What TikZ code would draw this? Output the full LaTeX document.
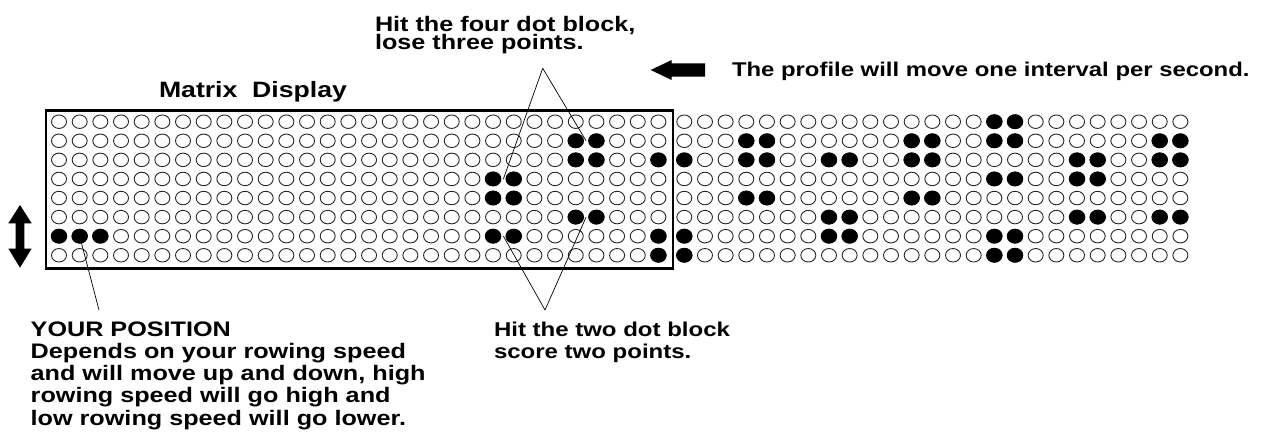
\documentclass[tikz,border=0pt]{standalone}
\usepackage{fontspec}
\setmainfont{Liberation Sans}[FakeStretch=1.2]
\usetikzlibrary{shapes.geometric,calc}
\tikzset{
  dot/.style={ellipse,draw=black!85,line width=0.9pt,minimum width=15pt,minimum height=13.5pt,inner sep=0pt},
  hit/.style={ellipse,fill=black,minimum width=16.5pt,minimum height=15pt,inner sep=0pt},
  lbl/.style={inner sep=0pt,outer sep=0pt,align=left},
  pointer/.style={line width=0.7pt},
  frame/.style={draw,line width=2.6pt,inner sep=0pt,minimum width=627pt,minimum height=157.7pt,anchor=north west},
  blockarrow/.style={fill=black},
}
\begin{document}
\lineskiplimit=-100pt
\begin{tikzpicture}[x=1pt,y=-1pt]
\useasboundingbox (0,0) rectangle (1264,437);
% dot matrix
\foreach \r in {0,...,7}{
  \foreach \k in {0,...,54}{
    \pgfmathsetmacro\xx{\k<30 ? 59+20.67*\k : 684.3+20.67*(\k-30)}
    \pgfmathsetmacro\yy{121.7+19.08*\r}
    \node[dot] (d-\r-\k) at (\xx,\yy) {};
  }
}
\foreach \r/\k in {0/45,0/46,
  1/25,1/26,1/33,1/34,1/41,1/42,1/45,1/46,1/53,1/54,
  2/25,2/26,2/29,2/30,2/33,2/34,2/37,2/38,2/41,2/42,2/49,2/50,2/53,2/54,
  3/21,3/22,3/45,3/46,3/49,3/50,
  4/21,4/22,4/33,4/34,4/41,4/42,
  5/25,5/26,5/37,5/38,5/49,5/50,5/53,5/54,
  6/0,6/1,6/2,6/21,6/22,6/29,6/30,6/37,6/38,6/45,6/46,
  7/29,7/30,7/45,7/46}{
  \node[hit] (f-\r-\k) at (d-\r-\k) {};
}
% display frame
\node[frame] (display) at (44.7,109.3) {};
% labels
\node[lbl,font=\fontsize{22.2}{25}\selectfont\bfseries,anchor=base west] (title) at (159,97) {Matrix\ \ Display};
\node[lbl,font=\fontsize{21}{18.3}\selectfont\bfseries,anchor=north west] (four) at (375,16.4) {Hit the four dot block,\\lose three points.};
\node[lbl,font=\fontsize{19.9}{22}\selectfont\bfseries,anchor=base west] (profile) at (732,76) {The profile will move one interval per second.};
\node[lbl,font=\fontsize{21}{22.3}\selectfont\bfseries,anchor=north west] (your) at (30.7,321.4) {YOUR POSITION\\Depends on your rowing speed\\and will move up and down, high\\rowing speed will go high and\\low rowing speed will go lower.};
\node[lbl,font=\fontsize{20}{22.3}\selectfont\bfseries,anchor=north west] (two) at (494,322) {Hit the two dot block\\score two points.};
% arrows
\fill[blockarrow] (650.7,70) -- (671.7,60) -- (671.7,63.3) -- (705,63.3) -- (705,76.7) -- (671.7,76.7) -- (671.7,80) -- cycle;
\fill[blockarrow] (20,205) -- (31.7,223.3) -- (24.3,223.3) -- (24.3,248.5) -- (31.7,248.5) -- (20,267.7) -- (8.3,248.5) -- (15.7,248.5) -- (15.7,223.3) -- (8.3,223.3) -- cycle;
% pointer lines
\coordinate (fourtip) at (542.7,68.3);
\coordinate (twotip) at (545,310);
\coordinate (yourtip) at (99,310);
\draw[pointer] (fourtip) -- ($(f-3-21)!0.5!(f-3-22)$);
\draw[pointer] (fourtip) -- ($(f-1-25)!0.5!(f-1-26)$);
\draw[pointer] (twotip) -- ($(f-6-21)!0.5!(f-6-22)$);
\draw[pointer] (twotip) -- ($(f-5-25)!0.5!(f-5-26)$);
\draw[pointer] (yourtip) -- (f-6-1.center);
\end{tikzpicture}
\end{document}
